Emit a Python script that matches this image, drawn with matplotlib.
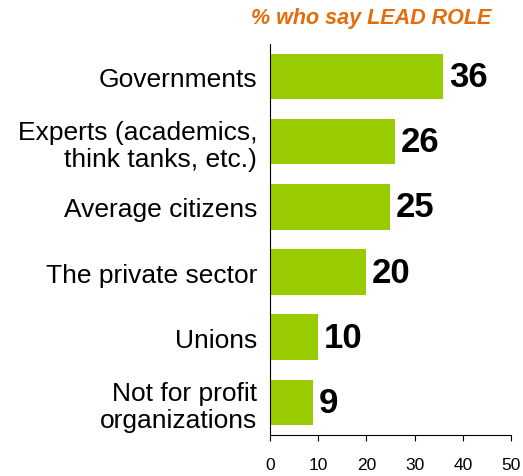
import matplotlib.pyplot as plt

plt.rcParams['font.family'] = ['Liberation Sans', 'DejaVu Sans']

categories = ["Governments", "Experts (academics,\nthink tanks, etc.)", "Average citizens",
              "The private sector", "Unions", "Not for profit\norganizations"]
lead_role = [36, 26, 25, 20, 10, 9]

fig = plt.figure(figsize=(5.23, 4.77), dpi=100)
ax = fig.add_axes([0.516, 0.086, 0.461, 0.82])

pos = list(range(len(categories)))
ax.barh(pos, lead_role, height=0.7, color="#99cc00")
for p, v in zip(pos, lead_role):
    ax.text(v + 1.2, p, str(v), va="center", ha="left", fontsize=25, fontweight="bold")

ax.set_yticks(pos)
ax.set_yticklabels(categories, fontsize=19, linespacing=1.15)
ax.set_ylim(len(categories) - 0.5, -0.5)
ax.set_xlim(0, 50)
ax.set_xticks(range(0, 51, 10))
ax.tick_params(axis="x", labelsize=12.5, length=4.5, direction="out", pad=11)
ax.tick_params(axis="y", length=0, pad=9)

for s in ["top", "right"]:
    ax.spines[s].set_visible(False)

fig.text(0.71, 0.962, "% who say LEAD ROLE", color="#e46c0a", fontsize=15.5,
         fontweight="bold", style="italic", ha="center", va="center")

fig.savefig("out.png", dpi=100)
